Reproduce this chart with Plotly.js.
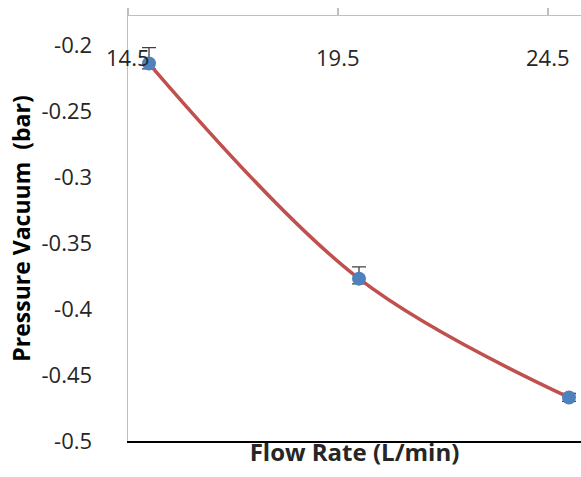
<!DOCTYPE html>
<html>
<head>
<meta charset="utf-8">
<script src="https://cdn.plot.ly/plotly-3.0.1.min.js"></script>
<style>html,body{margin:0;padding:0;background:#fff;}#chart{width:581px;height:477px;}</style>
</head>
<body>
<div id="chart"></div>
<script>
const flowRate = [15, 20, 25];
const pressure = [-0.214, -0.377, -0.467];
const errorPlus = [0.012, 0.009, 0.003];
const errorMinus = [0.004, 0.004, 0.003];
const xTickVals = [14.5, 19.5, 24.5];
const xTickText = ['14.5', '19.5', '24.5'];
const yTickVals = [-0.2, -0.25, -0.3, -0.35, -0.4, -0.45, -0.5];
const yTickText = ['-0.2', '-0.25', '-0.3', '-0.35', '-0.4', '-0.45', '-0.5'];

const font = 'Open Sans, Noto Sans, sans-serif';
const tickSize = 22;
const trace = {
  x: flowRate, y: pressure, type: 'scatter', mode: 'lines+markers',
  line: {shape: 'spline', color: '#c0504d', width: 3.5, smoothing: 1},
  marker: {color: '#4f81bd', size: 14},
  error_y: {type: 'data', symmetric: false, array: errorPlus, arrayminus: errorMinus, color: '#404040', thickness: 1.3, width: 7},
  hoverinfo: 'none'
};
const xr = [14.5, 14.5 + 453/42];
const annotations = xTickVals.map((v, i) => ({
  x: v, xref: 'x', y: 1, yref: 'paper', yshift: -41,
  xanchor: 'center', yanchor: 'middle', showarrow: false,
  text: xTickText[i], font: {family: font, size: tickSize, color: '#262626'}
}));
const layout = {
  width: 581, height: 477,
  margin: {l: 128, r: 0, t: 16, b: 36},
  paper_bgcolor: '#fff', plot_bgcolor: '#fff',
  showlegend: false,
  annotations: annotations,
  xaxis: {
    range: xr, showgrid: false, zeroline: false,
    showline: true, linecolor: '#000', linewidth: 1.5,
    ticks: '', showticklabels: false,
    title: {text: 'Flow Rate (L/min)', font: {family: font, size: 24, color: '#262626', weight: 'bold'}, standoff: 2}
  },
  xaxis2: {
    range: xr, overlaying: 'x', side: 'top',
    showgrid: false, zeroline: false,
    showline: true, linecolor: '#bfbfbf', linewidth: 1.5,
    ticks: 'outside', ticklen: 7, tickcolor: '#bfbfbf', tickwidth: 1.5,
    tickmode: 'array', tickvals: xTickVals, showticklabels: false
  },
  yaxis: {
    range: [-0.5, -0.178], showgrid: false, zeroline: false,
    showline: true, linecolor: '#bfbfbf', linewidth: 1.5,
    ticks: '', tickmode: 'array', tickvals: yTickVals, ticktext: yTickText,
    ticklabelstandoff: 30,
    tickfont: {family: font, size: tickSize, color: '#262626'},
    title: {text: 'Pressure Vacuum  (bar)', font: {family: font, size: 23, color: '#000', weight: 'bold'}, standoff: 4}
  }
};
const dummy = {x: [xTickVals[0]], y: [yTickVals[0]], xaxis: 'x2', type: 'scatter', mode: 'markers', marker: {opacity: 0}, hoverinfo: 'none'};
Plotly.newPlot('chart', [dummy, trace], layout, {staticPlot: true});
</script>
</body>
</html>
